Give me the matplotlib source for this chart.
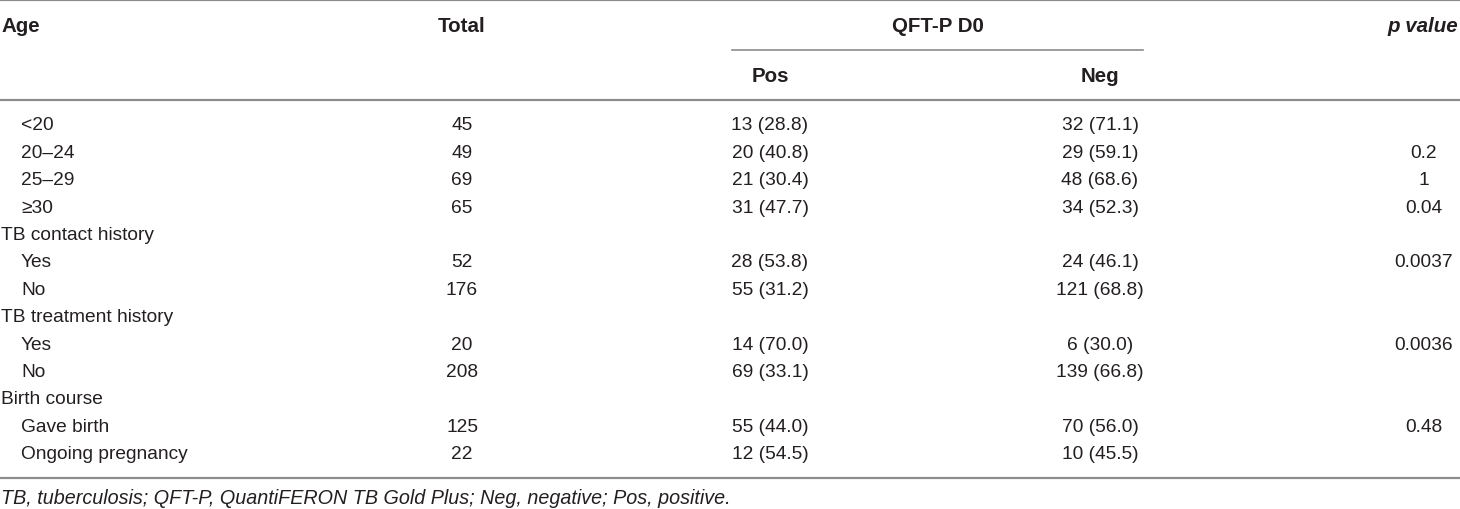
import matplotlib
matplotlib.use("Agg")
import matplotlib.pyplot as plt

plt.rcParams['font.family'] = ['Liberation Sans Narrow', 'Liberation Sans', 'DejaVu Sans']

# table contents
row_labels = ["<20", "20\u201324", "25\u201329", "\u226530",
              "TB contact history", "Yes", "No",
              "TB treatment history", "Yes", "No",
              "Birth course", "Gave birth", "Ongoing pregnancy"]
indented = [True, True, True, True, False, True, True, False, True, True, False, True, True]
totals = ["45", "49", "69", "65", "", "52", "176", "", "20", "208", "", "125", "22"]
pos_vals = ["13 (28.8)", "20 (40.8)", "21 (30.4)", "31 (47.7)", "",
            "28 (53.8)", "55 (31.2)", "", "14 (70.0)", "69 (33.1)", "",
            "55 (44.0)", "12 (54.5)"]
neg_vals = ["32 (71.1)", "29 (59.1)", "48 (68.6)", "34 (52.3)", "",
            "24 (46.1)", "121 (68.8)", "", "6 (30.0)", "139 (66.8)", "",
            "70 (56.0)", "10 (45.5)"]
p_vals = ["", "0.2", "1", "0.04", "", "0.0037", "", "", "0.0036", "", "", "0.48", ""]
footnote = "TB, tuberculosis; QFT-P, QuantiFERON TB Gold Plus; Neg, negative; Pos, positive."

W, H = 1460, 510
fig = plt.figure(figsize=(W / 100, H / 100), dpi=100)
ax = fig.add_axes([0, 0, 1, 1])
ax.set_xlim(0, W)
ax.set_ylim(H, 0)
ax.axis("off")

fs = 13.8
hfs = 14.8
line_col = "#8c8c8c"
txt_col = "#231f20"

# column centres
x_total, x_pos, x_neg, x_p = 462, 770, 1100, 1424

# rules
ax.plot([0, W], [1, 1], color=line_col, lw=1.6)
ax.plot([732, 1143], [50.5, 50.5], color=line_col, lw=1.2)
ax.plot([0, W], [100.5, 100.5], color=line_col, lw=1.6)
ax.plot([0, W], [479, 479], color=line_col, lw=1.6)

# header
hkw = dict(fontsize=hfs, fontweight="bold", color=txt_col, va="center")
ax.text(1, 27, "Age", ha="left", **hkw)
ax.text(x_total, 27, "Total", ha="center", **hkw)
ax.text((732 + 1143) / 2, 27, "QFT-P D0", ha="center", **hkw)
ax.text(1458, 27, "p value", ha="right", style="italic", **hkw)
ax.text(x_pos, 76, "Pos", ha="center", **hkw)
ax.text(x_neg, 76, "Neg", ha="center", **hkw)

# body
y0, dy = 126, 27.4
kw = dict(fontsize=fs, color=txt_col, va="center")
for i, lab in enumerate(row_labels):
    y = y0 + i * dy
    ax.text(21 if indented[i] else 1, y, lab, ha="left", **kw)
    ax.text(x_total, y, totals[i], ha="center", **kw)
    ax.text(x_pos, y, pos_vals[i], ha="center", **kw)
    ax.text(x_neg, y, neg_vals[i], ha="center", **kw)
    ax.text(x_p, y, p_vals[i], ha="center", **kw)

ax.text(1, 499, footnote, ha="left", va="center", style="italic",
        fontsize=14.2, color=txt_col)

fig.savefig("out.png", dpi=100)
